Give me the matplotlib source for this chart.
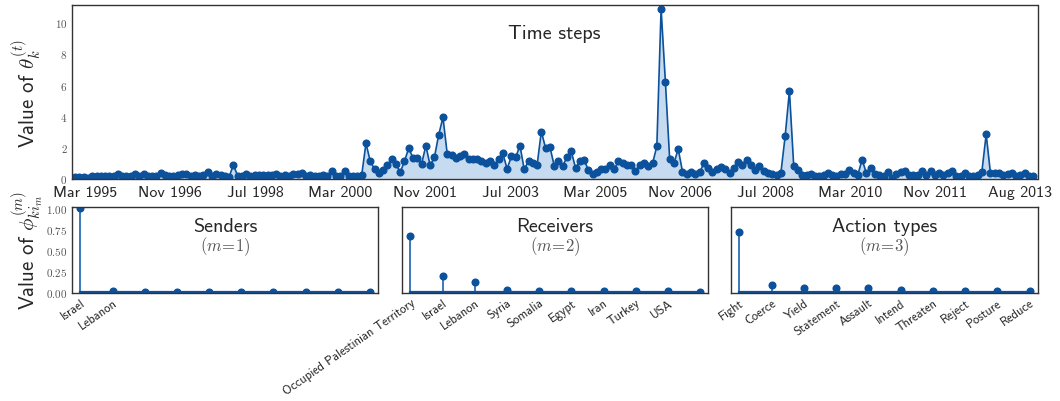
import numpy as np
import matplotlib
matplotlib.use('Agg')
import matplotlib.pyplot as plt

plt.rcParams['font.family'] = ['cmss10', 'DejaVu Sans']
plt.rcParams['mathtext.fontset'] = 'cm'
plt.rcParams['axes.unicode_minus'] = False

# ---------------- data ----------------
theta_a = [0.10, 0.10, 0.10, 0.02, 0.15, 0.15, 0.17, 0.17, 0.15, 0.17,
           0.30, 0.18, 0.17, 0.15, 0.28, 0.17, 0.28, 0.17, 0.15, 0.17,
           0.36, 0.21, 0.17, 0.17, 0.21, 0.25, 0.25, 0.17, 0.21, 0.17,
           0.23, 0.38, 0.17, 0.30, 0.21, 0.17, 0.10, 0.85, 0.17, 0.12,
           0.28, 0.17, 0.21, 0.21, 0.21, 0.21, 0.21, 0.30, 0.17, 0.21,
           0.17, 0.25, 0.30, 0.36, 0.17]
theta_b = [0.21, 0.17, 0.17, 0.21, 0.17, 0.49, 0.17, 0.17, 0.45, 0.17,
           0.17, 0.17, 0.21, 2.24, 1.10, 0.60, 0.35, 0.53, 0.85, 1.24,
           0.92, 0.38, 1.10, 1.93, 1.30, 1.30, 0.92, 2.09, 0.83, 1.35,
           2.78, 3.90, 1.56, 1.50, 1.28, 1.41, 1.56, 1.24, 1.24, 1.24,
           1.13, 0.96, 1.13, 0.85, 1.24, 1.60, 0.60, 1.41, 1.35, 2.09,
           0.58, 1.10, 1.00, 0.83, 3.00, 1.93, 2.03, 0.81]
theta_c = [1.09, 0.81, 1.35, 1.73, 0.66, 1.09, 1.18, 0.53, 0.28, 0.38,
           0.58, 0.60, 0.88, 0.58, 1.09, 0.96, 0.85, 0.85, 0.47, 0.88,
           0.96, 0.77, 0.96, 2.05, 10.85, 6.20, 1.24, 0.96, 1.88, 0.43,
           0.28, 0.38, 0.28, 0.38, 0.96, 0.66, 0.43, 0.60, 0.75, 0.60,
           0.34, 0.66, 1.07, 0.88, 1.18, 0.88, 0.56, 0.81, 0.49, 0.34,
           0.28, 0.23, 0.34, 2.69, 5.60, 0.81]
theta_d = [0.53, 0.23, 0.21, 0.28, 0.17, 0.17, 0.23, 0.36, 0.21, 0.17,
           0.28, 0.28, 0.53, 0.32, 0.23, 1.20, 0.32, 0.64, 0.28, 0.23,
           0.17, 0.38, 0.00, 0.28, 0.38, 0.45, 0.23, 0.23, 0.23, 0.45,
           0.23, 0.45, 0.23, 0.34, 0.23, 0.34, 0.49, 0.17, 0.13, 0.34,
           0.17, 0.17, 0.23, 0.43, 2.82, 0.34, 0.34, 0.32, 0.23, 0.28,
           0.32, 0.17, 0.21, 0.34, 0.17, 0.17]
theta = theta_a + theta_b + theta_c + theta_d

time_tick_labels = ['Mar 1995', 'Nov 1996', 'Jul 1998', 'Mar 2000', 'Nov 2001',
                    'Jul 2003', 'Mar 2005', 'Nov 2006', 'Jul 2008', 'Mar 2010',
                    'Nov 2011', 'Aug 2013']

senders_labels = ['Israel', 'Lebanon']
senders_vals = [0.99, 0.012, 0.004, 0.003, 0.003, 0.002, 0.002, 0.002, 0.002, 0.002]

receivers_labels = ['Occupied Palestinian Territory', 'Israel', 'Lebanon', 'Syria',
                    'Somalia', 'Egypt', 'Iran', 'Turkey', 'USA']
receivers_vals = [0.665, 0.195, 0.12, 0.024, 0.018, 0.012, 0.010, 0.009, 0.008, 0.006]

action_labels = ['Fight', 'Coerce', 'Yield', 'Statement', 'Assault', 'Intend',
                 'Threaten', 'Reject', 'Posture', 'Reduce']
action_vals = [0.706, 0.09, 0.054, 0.054, 0.045, 0.027, 0.018, 0.015, 0.012, 0.010]

panel_titles = ['Senders', 'Receivers', 'Action types']
panel_sub = [r'$(m\!=\!1)$', r'$(m\!=\!2)$', r'$(m\!=\!3)$']

# ---------------- style ----------------
DARK = '#0b519c'
FILL = '#c6dbef'
STEM = '#3a78bc'
SPINE = '#333333'
TXT = '#262626'

W, H = 1060, 402
fig = plt.figure(figsize=(W / 100, H / 100), dpi=100)


def box(l, t, r, b):
    return [l / W, 1 - b / H, (r - l) / W, (b - t) / H]


def style(ax):
    for s in ax.spines.values():
        s.set_color(SPINE)
        s.set_linewidth(1.0)
    ax.tick_params(length=0)


# ---------------- top panel ----------------
ax = fig.add_axes(box(71.7, 6, 1037.5, 180.3))
style(ax)
x = np.arange(len(theta))
ax.fill_between(x, theta, 0, color=FILL, lw=0)
ax.plot(x, theta, '-o', color=DARK, ms=4.8, lw=1.2)
ax.set_xlim(-0.8, len(theta))
ax.set_ylim(-0.06, 11.1)
yt = [0, 2, 4, 6, 8, 10]
ax.set_yticks(yt)
ax.set_yticklabels([f'${v}$' for v in yt], fontsize=8, color='#555555')
ax.set_xticks(np.linspace(2.3, 220.9, len(time_tick_labels)))
ax.set_xticklabels(time_tick_labels, fontsize=11.5, color=TXT)
ax.tick_params(axis='x', pad=4)
ax.tick_params(axis='y', pad=3)
ax.text(0.5, 0.842, 'Time steps', transform=ax.transAxes, ha='center',
        va='center', fontsize=14.5, color=TXT)
ax.set_ylabel(r'Value of $\theta_k^{(t)}$', fontsize=15, color=TXT)
ax.yaxis.set_label_coords(-0.029, 0.5)

# ---------------- bottom panels ----------------
boxes = [(71.7, 207.7, 378, 294), (401.7, 207.7, 708.3, 294),
         (730.7, 207.7, 1037.7, 294)]
vals_list = [senders_vals, receivers_vals, action_vals]
labels_list = [senders_labels, receivers_labels, action_labels]

for i, (bx, vals, labs) in enumerate(zip(boxes, vals_list, labels_list)):
    a = fig.add_axes(box(*bx))
    style(a)
    xs = np.arange(len(vals))
    ml, sl, bl = a.stem(xs, vals, linefmt='-', markerfmt='o', basefmt='-')
    sl.set_color(STEM)
    sl.set_linewidth(1.4)
    ml.set_color(DARK)
    ml.set_markersize(4.8)
    bl.set_color(DARK)
    bl.set_linewidth(1.6)
    a.set_xlim(-0.27, len(vals) - 0.75)
    a.set_ylim(-0.01, 1.01)
    a.set_xticks(np.arange(len(labs)))
    a.set_xticklabels(labs, rotation=35, ha='right', rotation_mode='anchor',
                      fontsize=9, color=TXT)
    a.tick_params(axis='x', pad=2.5)
    if i == 0:
        yv = [0, 0.25, 0.5, 0.75, 1.0]
        a.set_yticks(yv)
        a.set_yticklabels([f'${v:.2f}$' for v in yv], fontsize=8, color='#555555')
        a.tick_params(axis='y', pad=3)
        a.set_ylabel(r'Value of $\phi_{k i_m}^{(m)}$', fontsize=15, color=TXT)
        a.yaxis.set_label_coords(-0.085, 0.5)
    else:
        a.set_yticks([])
    a.text(0.5, 0.773, panel_titles[i], transform=a.transAxes, ha='center',
           va='center', fontsize=14.5, color=TXT)
    a.text(0.5, 0.548, panel_sub[i], transform=a.transAxes, ha='center',
           va='center', fontsize=12, color='#555555')

fig.savefig('out.png', dpi=100)
